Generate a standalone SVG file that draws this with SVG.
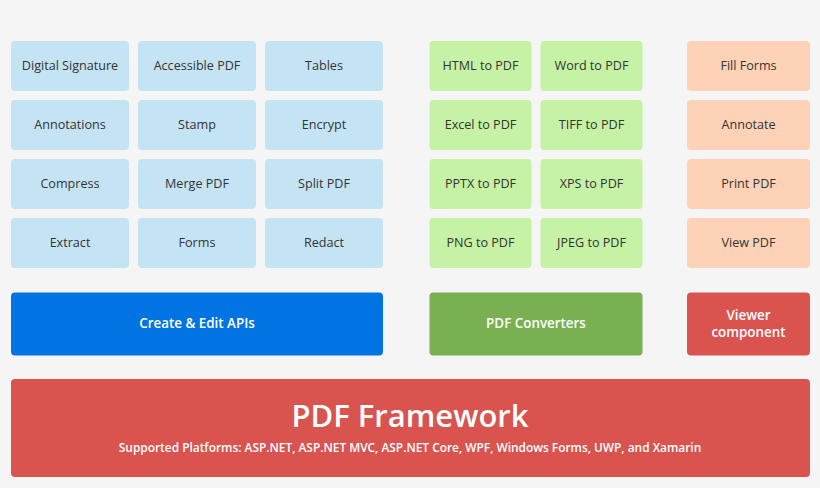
<svg xmlns="http://www.w3.org/2000/svg" width="820" height="488" viewBox="0 0 820 488">
<style>
.t{font-family:"Open Sans","Noto Sans","Liberation Sans",sans-serif;font-size:12.6px;fill:#333;text-anchor:middle;dominant-baseline:central}
.w{font-family:"Open Sans","Noto Sans","Liberation Sans",sans-serif;font-size:13.4px;font-weight:600;fill:#fff;text-anchor:middle;dominant-baseline:central}
.b{fill:#c5e4f3}.g{fill:#c5f2a4}.o{fill:#fdd2b6}
</style>
<rect width="820" height="488" fill="#f5f5f5"/>
<g id="digital-signature"><rect class="b" x="11" y="41" width="118" height="50" rx="4"/><text class="t" x="70" y="65">Digital Signature</text></g>
<g id="accessible-pdf"><rect class="b" x="138" y="41" width="118" height="50" rx="4"/><text class="t" x="197" y="65">Accessible PDF</text></g>
<g id="tables"><rect class="b" x="265" y="41" width="118" height="50" rx="4"/><text class="t" x="324" y="65">Tables</text></g>
<g id="annotations"><rect class="b" x="11" y="100" width="118" height="50" rx="4"/><text class="t" x="70" y="124">Annotations</text></g>
<g id="stamp"><rect class="b" x="138" y="100" width="118" height="50" rx="4"/><text class="t" x="197" y="124">Stamp</text></g>
<g id="encrypt"><rect class="b" x="265" y="100" width="118" height="50" rx="4"/><text class="t" x="324" y="124">Encrypt</text></g>
<g id="compress"><rect class="b" x="11" y="159" width="118" height="50" rx="4"/><text class="t" x="70" y="183">Compress</text></g>
<g id="merge-pdf"><rect class="b" x="138" y="159" width="118" height="50" rx="4"/><text class="t" x="197" y="183">Merge PDF</text></g>
<g id="split-pdf"><rect class="b" x="265" y="159" width="118" height="50" rx="4"/><text class="t" x="324" y="183">Split PDF</text></g>
<g id="extract"><rect class="b" x="11" y="218" width="118" height="50" rx="4"/><text class="t" x="70" y="242">Extract</text></g>
<g id="forms"><rect class="b" x="138" y="218" width="118" height="50" rx="4"/><text class="t" x="197" y="242">Forms</text></g>
<g id="redact"><rect class="b" x="265" y="218" width="118" height="50" rx="4"/><text class="t" x="324" y="242">Redact</text></g>

<g id="html-to-pdf"><rect class="g" x="429.5" y="41" width="102" height="50" rx="4"/><text class="t" x="480.5" y="65">HTML to PDF</text></g>
<g id="word-to-pdf"><rect class="g" x="540.5" y="41" width="102" height="50" rx="4"/><text class="t" x="591.5" y="65">Word to PDF</text></g>
<g id="excel-to-pdf"><rect class="g" x="429.5" y="100" width="102" height="50" rx="4"/><text class="t" x="480.5" y="124">Excel to PDF</text></g>
<g id="tiff-to-pdf"><rect class="g" x="540.5" y="100" width="102" height="50" rx="4"/><text class="t" x="591.5" y="124">TIFF to PDF</text></g>
<g id="pptx-to-pdf"><rect class="g" x="429.5" y="159" width="102" height="50" rx="4"/><text class="t" x="480.5" y="183">PPTX to PDF</text></g>
<g id="xps-to-pdf"><rect class="g" x="540.5" y="159" width="102" height="50" rx="4"/><text class="t" x="591.5" y="183">XPS to PDF</text></g>
<g id="png-to-pdf"><rect class="g" x="429.5" y="218" width="102" height="50" rx="4"/><text class="t" x="480.5" y="242">PNG to PDF</text></g>
<g id="jpeg-to-pdf"><rect class="g" x="540.5" y="218" width="102" height="50" rx="4"/><text class="t" x="591.5" y="242">JPEG to PDF</text></g>

<g id="fill-forms"><rect class="o" x="687" y="41" width="123" height="50" rx="4"/><text class="t" x="748.5" y="65">Fill Forms</text></g>
<g id="annotate"><rect class="o" x="687" y="100" width="123" height="50" rx="4"/><text class="t" x="748.5" y="124">Annotate</text></g>
<g id="print-pdf"><rect class="o" x="687" y="159" width="123" height="50" rx="4"/><text class="t" x="748.5" y="183">Print PDF</text></g>
<g id="view-pdf"><rect class="o" x="687" y="218" width="123" height="50" rx="4"/><text class="t" x="748.5" y="242">View PDF</text></g>

<g id="create-edit-apis"><rect x="11" y="292.5" width="372" height="63" rx="4" fill="#0273e3"/><text class="w" x="197" y="323">Create &amp; Edit APIs</text></g>
<g id="pdf-converters"><rect x="429.5" y="292.5" width="213" height="63" rx="4" fill="#79b152"/><text class="w" x="536" y="323">PDF Converters</text></g>
<g id="viewer-component"><rect x="687" y="292.5" width="123" height="63" rx="4" fill="#d9534f"/><text class="w" x="748.5" y="315">Viewer</text><text class="w" x="748.5" y="332">component</text></g>

<g id="pdf-framework"><rect x="11" y="379" width="799" height="98" rx="4" fill="#d9534f"/>
<text x="410" y="415" font-family="'Open Sans','Noto Sans','Liberation Sans',sans-serif" font-size="31" font-weight="600" fill="#fff" text-anchor="middle" dominant-baseline="central">PDF Framework</text>
<text x="410" y="447" font-family="'Open Sans','Noto Sans','Liberation Sans',sans-serif" font-size="11.9" font-weight="600" fill="#fff" text-anchor="middle" dominant-baseline="central">Supported Platforms: ASP.NET, ASP.NET MVC, ASP.NET Core, WPF, Windows Forms, UWP, and Xamarin</text></g>
<g id="connectors"/>
</svg>
